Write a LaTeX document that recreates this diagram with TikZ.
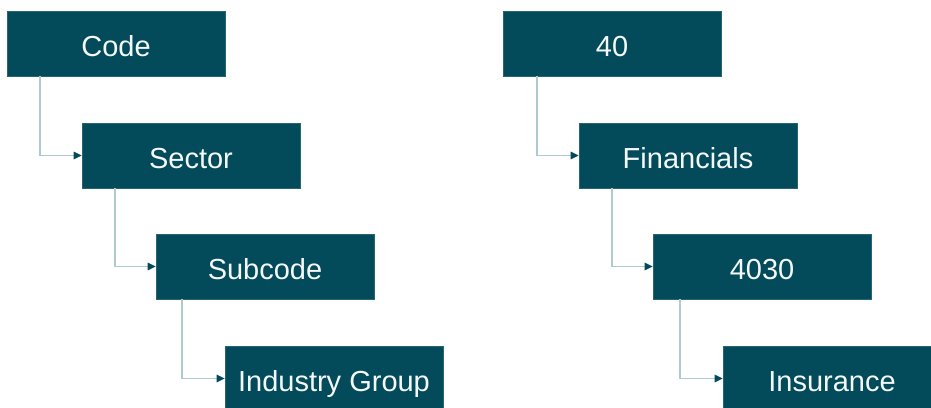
\documentclass[tikz,border=0pt]{standalone}
\usepackage{fontspec}
\setmainfont{Liberation Sans}
\usetikzlibrary{arrows.meta,positioning,calc}
\definecolor{boxTeal}{HTML}{034B5B}
\definecolor{linkGrey}{HTML}{AECAD0}
\definecolor{textWhite}{HTML}{F4F8F8}

\begin{document}
\begin{tikzpicture}[
      x=0.75pt, y=-0.75pt,
      catbox/.style={
        rectangle, fill=boxTeal, draw=boxTeal!85!white, line width=0.4pt,
        text=textWhite, align=center, font=\fontsize{21.75pt}{24pt}\selectfont,
        minimum width=163.5pt, minimum height=48.75pt, inner sep=0pt,
        text height=18.75pt, text depth=0pt
      },
      treearr/.style={-{Triangle[length=6pt,width=5.5pt,color=boxTeal]}, draw=linkGrey, line width=1.2pt}
    ]
      \useasboundingbox (0,0) rectangle (931,407);

      % left column: names of the levels
      \node[catbox] (c1) at (116,43.5)  {Code};
      \node[catbox] (c2) at (191,155.5) {Sector};
      \node[catbox] (c3) at (265,266.5) {Subcode};
      \node[catbox] (c4) at (334,378.5) {Industry Group};

      % right column: an example
      \node[catbox] (e1) at (612,43.5)  {40};
      \node[catbox] (e2) at (688,155.5) {Financials};
      \node[catbox] (e3) at (762,266.5) {4030};
      \node[catbox] (e4) at (832,378.5) {Insurance};

      \draw[treearr] ($(c1.south west)+(33,0)$) |- (c2.west);
      \draw[treearr] ($(c2.south west)+(33,0)$) |- (c3.west);
      \draw[treearr] ($(c3.south west)+(26,0)$) |- (c4.west);

      \draw[treearr] ($(e1.south west)+(34,0)$) |- (e2.west);
      \draw[treearr] ($(e2.south west)+(33,0)$) |- (e3.west);
      \draw[treearr] ($(e3.south west)+(27,0)$) |- (e4.west);
    \end{tikzpicture}
\end{document}
